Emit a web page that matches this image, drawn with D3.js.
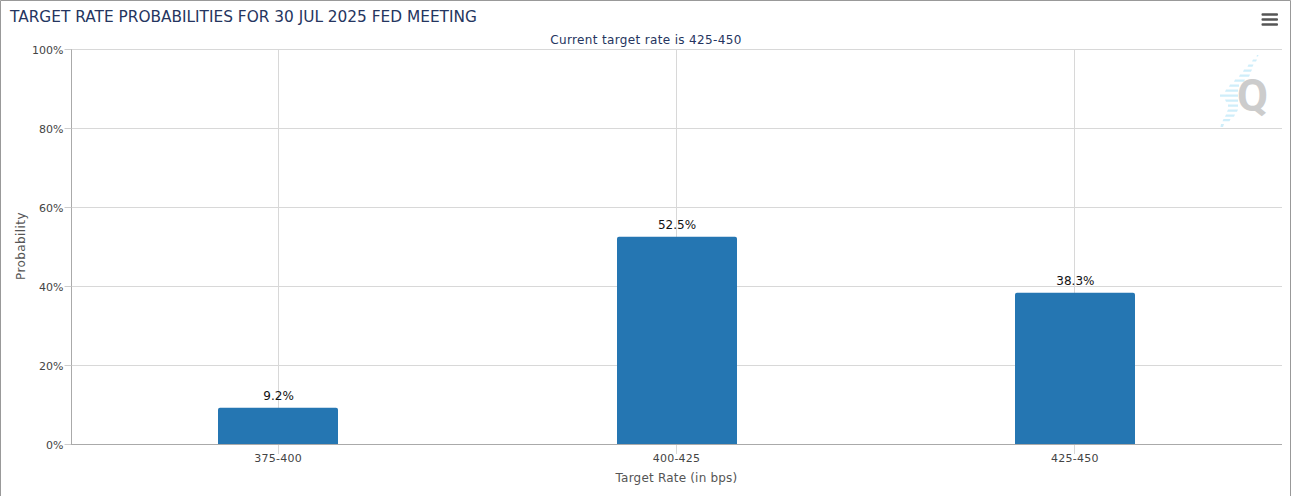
<!DOCTYPE html>
<html><head><meta charset="utf-8">
<script src="https://cdn.jsdelivr.net/npm/d3@7/dist/d3.min.js"></script>
<style>html,body{margin:0;padding:0;background:#fff;overflow:hidden}svg{display:block}text{font-family:"DejaVu Sans",sans-serif}</style>
</head><body><svg id="c" width="1292" height="496"></svg>
<script>
const categories = ["375-400","400-425","425-450"];
const probabilities = [9.2,52.5,38.3];
const yTicks = [0,20,40,60,80,100];
const titleText = "TARGET RATE PROBABILITIES FOR 30 JUL 2025 FED MEETING";
const subtitleText = "Current target rate is 425-450";
const xTitle = "Target Rate (in bps)";
const yTitle = "Probability";

const svg = d3.select("#c");
const L=71,R=1282,T=49,B=444;
const x = d3.scaleBand().domain(categories).range([78.9,1274.1]);
const y = d3.scaleLinear().domain([0,100]).range([B,T]);
const cx = d=>x(d)+x.bandwidth()/2;
const px = v=>Math.floor(Math.round(v*1000)/1000)+.5;
const barW=120;

// frame
svg.append("path").attr("d","M0.5,496V0.5H1290.5V496").attr("fill","none").attr("stroke","#999");

// grid
svg.append("g").selectAll("line").data(yTicks).join("line")
 .attr("x1",L).attr("x2",R).attr("y1",d=>px(y(d))).attr("y2",d=>px(y(d)))
 .attr("stroke","#d8d8d8");
svg.append("g").selectAll("line").data(categories).join("line")
 .attr("x1",d=>px(cx(d))).attr("x2",d=>px(cx(d))).attr("y1",T).attr("y2",B+10)
 .attr("stroke","#d8d8d8");

// watermark
svg.append("path").attr("fill","#cfeefa").attr("d",
 "M1257,55h1.5l-.5,1.5h-1.5z M1253,59.5h4l-1,2h-4z M1248.5,64.5h5l-1,2.2h-5z M1244,69.5h8l-1,2.2h-8z "+
 "M1240,74.5h10l-1,2.2h-10z M1235,79.5h10l-1,2.2h-10z M1230,84.5h9v2.2h-10z M1226,89.5h12v2.2h-13z "+
 "M1220,94.5h18v2.2h-18z M1225,99.5h13v2.2h-12z M1228,104.5h10v2.2h-10z M1228,109.5h10l-1,2.2h-10z "+
 "M1226,114.5h9l-1,2.2h-9z M1223.5,119h7l-1,2.2h-7z M1221,124h3l-1,3h-2.5z");
svg.append("text").attr("x",1252.5).attr("y",110.5).attr("text-anchor","middle")
 .attr("font-size",45).attr("font-weight",700).attr("fill","#cccccc").style("font-family","'Roboto',sans-serif").text("Q");

// axes
const yAxis = svg.append("g").attr("transform",`translate(${L+.5},0)`).call(
 d3.axisLeft(y).tickValues(yTicks).tickFormat(d=>d+"%").tickSize(7).tickPadding(1));
yAxis.select(".domain").attr("stroke","#aaa").attr("d",`M0,${T}V${B+.5}`);
yAxis.selectAll("line").attr("stroke","#ccc");
yAxis.selectAll(".tick").attr("transform",d=>`translate(0,${px(y(d))})`);
yAxis.selectAll("text").attr("font-size",11).attr("x",-8).attr("y",.8).attr("fill","#444").attr("dy","0.32em");

// bars
svg.append("g").selectAll("path").data(categories).join("path")
 .attr("d",(d,i)=>{const a=Math.round(cx(d)-barW/2+.05),t=y(probabilities[i]),r=2;
  return `M${a},${B}V${t+r}Q${a},${t} ${a+r},${t}H${a+barW-r}Q${a+barW},${t} ${a+barW},${t+r}V${B}Z`;})
 .attr("fill","#2576b2");

// x baseline
const xAxis = svg.append("g").attr("transform",`translate(0,${B})`).call(
 d3.axisBottom(x).tickSize(0).tickPadding(10));
xAxis.select(".domain").attr("d",`M${L},0.5H${R}`).attr("stroke","#aaa");
xAxis.selectAll("text").attr("font-size",11).attr("letter-spacing",".25").attr("fill","#444");

// labels
svg.append("g").selectAll("text").data(categories).join("text")
 .attr("x",d=>cx(d)+.5).attr("y",(d,i)=>y(probabilities[i])-8)
 .attr("text-anchor","middle").attr("font-size",12).attr("fill","#111")
 .text((d,i)=>probabilities[i].toFixed(1)+"%");

// titles
svg.append("text").attr("x",10).attr("y",22).attr("font-size",15.35).attr("fill","#253560").text(titleText);
svg.append("text").attr("x",646).attr("y",44).attr("text-anchor","middle").attr("font-size",12).attr("letter-spacing",".35").attr("fill","#253560").text(subtitleText);
svg.append("text").attr("x",676.5).attr("y",482).attr("text-anchor","middle").attr("font-size",12).attr("letter-spacing",".2").attr("fill","#555").text(xTitle);
svg.append("text").attr("transform","translate(25,246) rotate(-90)").attr("text-anchor","middle").attr("font-size",12).attr("letter-spacing",".4").attr("fill","#555").text(yTitle);

// menu icon
svg.append("g").selectAll("rect").data([0,1,2]).join("rect")
 .attr("x",1261.5).attr("width",16.5).attr("height",2.6).attr("rx",1)
 .attr("y",d=>13.2+d*5).attr("fill","#555");
</script></body></html>
